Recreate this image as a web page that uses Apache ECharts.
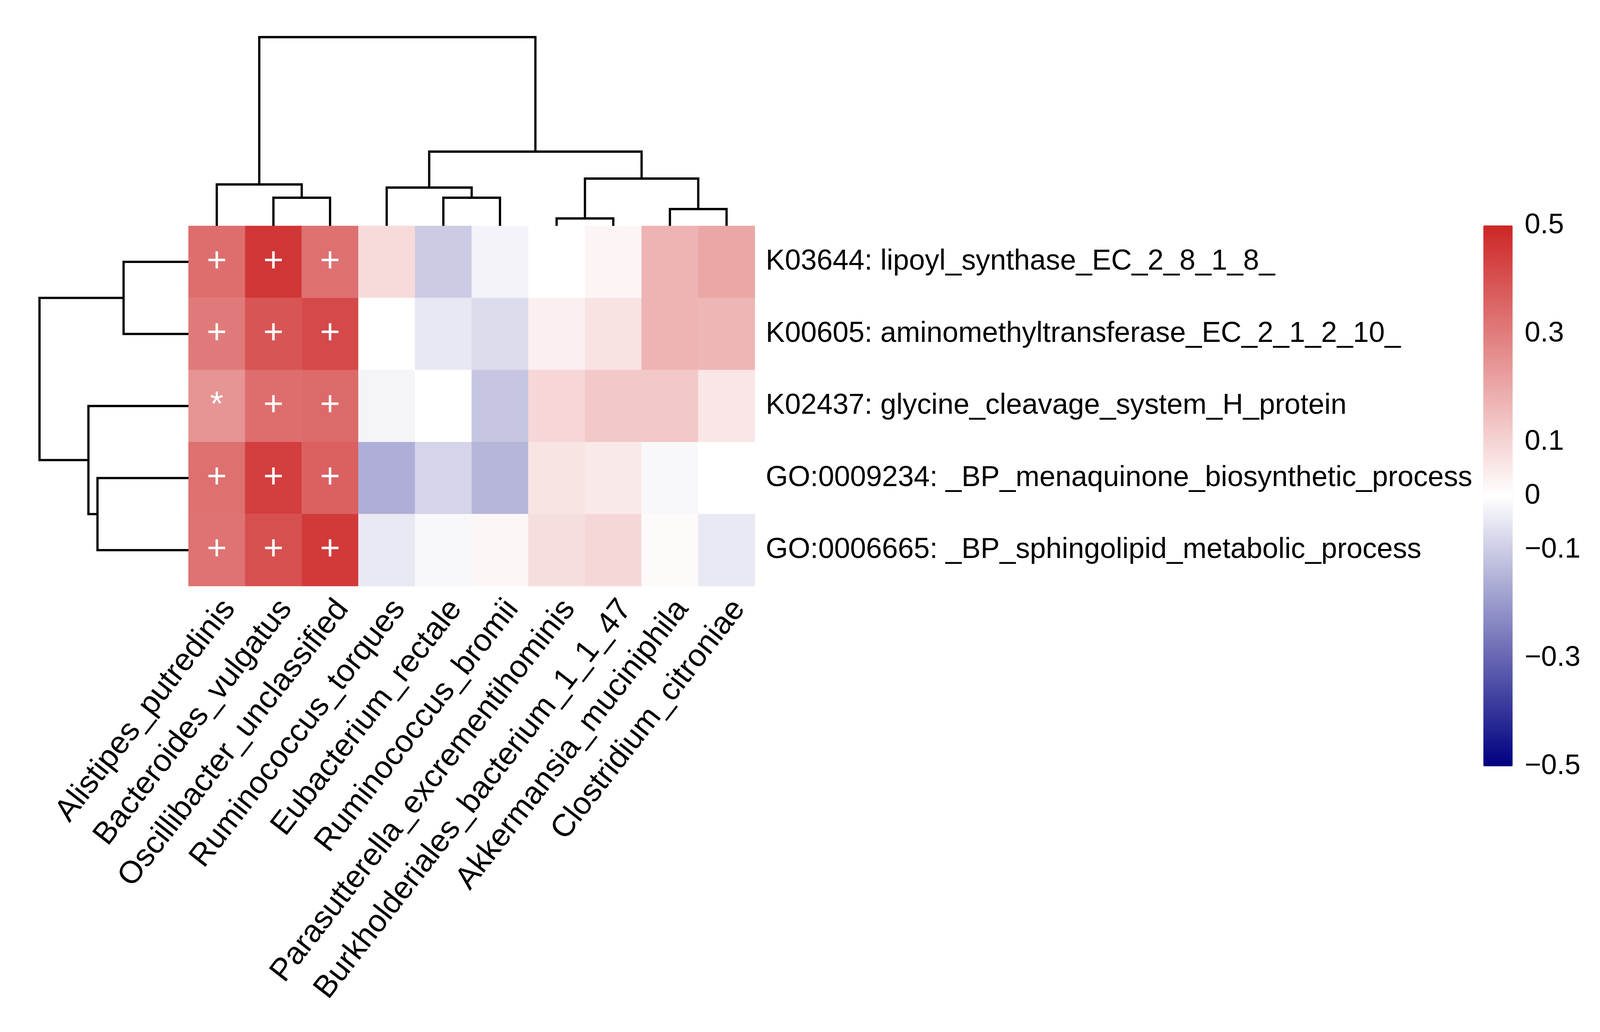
<!DOCTYPE html>
<html><head><meta charset="utf-8">
<script src="https://cdn.jsdelivr.net/npm/echarts@6/dist/echarts.min.js"></script>
<style>html,body{margin:0;padding:0;background:#fff;overflow:hidden}#c{width:100vw;height:100vh}</style>
</head><body><div id="c"></div>
<script>
// ---------- data ----------
const species = ['Alistipes_putredinis', 'Bacteroides_vulgatus', 'Oscillibacter_unclassified',
  'Ruminococcus_torques', 'Eubacterium_rectale', 'Ruminococcus_bromii',
  'Parasutterella_excrementihominis', 'Burkholderiales_bacterium_1_1_47',
  'Akkermansia_muciniphila', 'Clostridium_citroniae'];
const functions = ['K03644: lipoyl_synthase_EC_2_8_1_8_',
  'K00605: aminomethyltransferase_EC_2_1_2_10_',
  'K02437: glycine_cleavage_system_H_protein',
  'GO:0009234: _BP_menaquinone_biosynthetic_process',
  'GO:0006665: _BP_sphingolipid_metabolic_process'];
const corrK03644 = [0.334, 0.463, 0.330, 0.083, -0.102, -0.024, 0.000, 0.023, 0.173, 0.205];
const corrK00605 = [0.306, 0.392, 0.419, 0.001, -0.045, -0.069, 0.037, 0.067, 0.173, 0.168];
const corrK02437 = [0.247, 0.334, 0.343, -0.022, 0.000, -0.112, 0.094, 0.127, 0.127, 0.058];
const corrGO0009234 = [0.330, 0.445, 0.364, -0.159, -0.084, -0.143, 0.062, 0.051, -0.014, 0.000];
const corrGO0006665 = [0.325, 0.403, 0.454, -0.043, -0.014, 0.021, 0.076, 0.092, 0.012, -0.043];
const sigK03644 = ['+', '+', '+', '', '', '', '', '', '', ''];
const sigK00605 = ['+', '+', '+', '', '', '', '', '', '', ''];
const sigK02437 = ['*', '+', '+', '', '', '', '', '', '', ''];
const sigGO0009234 = ['+', '+', '+', '', '', '', '', '', '', ''];
const sigGO0006665 = ['+', '+', '+', '', '', '', '', '', '', ''];
// hclust-style merges (negative = leaf index 1-based in display order, positive = earlier merge)
const colMerge = [[-7, -8], [-9, -10], [-2, -3], [-5, -6], [-4, 4], [-1, 3], [1, 2], [5, 7], [6, 8]];
const colHeight = [19, 43, 72, 72, 98, 106, 121, 190, 483];
const rowMerge = [[-1, -2], [-4, -5], [-3, 2], [1, 3]];
const rowHeight = [179, 251, 276, 411];
const legendTicks = [0.5, 0.3, 0.1, 0, -0.1, -0.3, -0.5];

// ---------- build ----------
const corr = [corrK03644, corrK00605, corrK02437, corrGO0009234, corrGO0006665];
const sig = [sigK03644, sigK00605, sigK02437, sigGO0009234, sigGO0006665];
const heatData = [];
corr.forEach((row, r) => row.forEach((v, c) => heatData.push([c, r, v])));

function links(merge, heights) {
  const pos = [], out = [];
  const info = m => m < 0 ? { p: -m - 1, h: 0 } : { p: pos[m - 1], h: heights[m - 1] };
  merge.forEach((pair, i) => {
    const a = info(pair[0]), b = info(pair[1]);
    const l = a.p <= b.p ? a : b, r = a.p <= b.p ? b : a;
    pos.push((l.p + r.p) / 2);
    out.push([l.p, r.p, l.h, r.h, heights[i]]);
  });
  return out;
}
const colLinks = links(colMerge, colHeight);
const rowLinks = links(rowMerge, rowHeight);

const el = document.getElementById('c');
const W = el.clientWidth || window.innerWidth, H = el.clientHeight || window.innerHeight;
const sx = W / 4415, sy = H / 2641, sf = Math.min(sx, sy);
const X = v => v * sx, Y = v => v * sy, F = v => v * sf;
// column labels: keep the reference's visual slant (about 50 deg in 4415x2641 space)
const colRotate = Math.atan(Math.tan(50 * Math.PI / 180) * sy / sx) * 180 / Math.PI;
const colFont = Math.hypot(457 * sx, 550 * sy) / 8.61;

const FONT = 'Liberation Sans, Arial, Helvetica, sans-serif';
const lineStyle = { stroke: '#000', lineWidth: 6 * (sx + sy) / 2, fill: null };

const chart = echarts.init(el, null, { renderer: 'canvas' });
chart.setOption({
  animation: false,
  backgroundColor: '#fff',
  textStyle: { fontFamily: FONT },
  grid: [
    { left: X(520), top: Y(578), width: X(1563), height: Y(922) },   // heatmap
    { left: X(520), top: Y(95), width: X(1563), height: Y(483) },    // column dendrogram
    { left: X(109), top: Y(578), width: X(411), height: Y(922) },    // row dendrogram
    { left: X(4093), top: Y(577), width: X(81), height: Y(1384) }    // colour bar scale
  ],
  xAxis: [
    { type: 'category', gridIndex: 0, data: species, position: 'bottom',
      axisLine: { show: false }, axisTick: { show: false }, splitLine: { show: false },
      axisLabel: { rotate: colRotate, fontSize: colFont, color: '#000', fontFamily: FONT,
        align: 'right', verticalAlign: 'top', margin: Y(20), interval: 0 } },
    { type: 'value', gridIndex: 1, min: -0.5, max: 9.5, show: false },
    { type: 'value', gridIndex: 2, min: 0, max: rowHeight[rowHeight.length - 1], inverse: true, show: false },
    { type: 'value', gridIndex: 3, min: 0, max: 1, show: false }
  ],
  yAxis: [
    { type: 'category', gridIndex: 0, data: functions, inverse: true, position: 'right',
      axisLine: { show: false }, axisTick: { show: false }, splitLine: { show: false },
      axisLabel: { fontSize: F(79), color: '#000', fontFamily: FONT, margin: X(30), interval: 0 } },
    { type: 'value', gridIndex: 1, min: 0, max: colHeight[colHeight.length - 1], show: false },
    { type: 'value', gridIndex: 2, min: -0.5, max: 4.5, inverse: true, show: false },
    { type: 'value', gridIndex: 3, min: -0.5, max: 0.5, interval: 0.1, position: 'right',
      axisLine: { show: false }, axisTick: { show: false }, splitLine: { show: false },
      axisLabel: { fontSize: F(78), color: '#000', fontFamily: FONT, margin: X(33),
        showMinLabel: true, showMaxLabel: true,
        formatter: v => {
          const r = Math.round(v * 10) / 10;
          if (!legendTicks.includes(r)) return '';
          return r < 0 ? '\u2212' + Math.abs(r) : String(r);
        } } }
  ],
  visualMap: {
    type: 'continuous', min: -0.5, max: 0.5, seriesIndex: 0,
    inRange: { color: ['#000080', '#ffffff', '#CD2626'] },
    itemWidth: X(81), itemHeight: Y(1384), left: X(4093), top: Y(577), padding: 0,
    calculable: false, hoverLink: false, orient: 'vertical'
  },
  series: [
    { type: 'heatmap', xAxisIndex: 0, yAxisIndex: 0, data: heatData,
      itemStyle: { borderWidth: 0 },
      emphasis: { disabled: true },
      label: { show: true, color: '#fff', fontSize: F(95), fontFamily: FONT,
        formatter: p => sig[p.data[1]][p.data[0]] } },
    { type: 'custom', xAxisIndex: 1, yAxisIndex: 1, data: colLinks, silent: true,
      renderItem: (params, api) => {
        const pts = [
          api.coord([api.value(0), api.value(2)]), api.coord([api.value(0), api.value(4)]),
          api.coord([api.value(1), api.value(4)]), api.coord([api.value(1), api.value(3)])];
        return { type: 'polyline', shape: { points: pts }, style: lineStyle };
      } },
    { type: 'custom', xAxisIndex: 2, yAxisIndex: 2, data: rowLinks, silent: true,
      renderItem: (params, api) => {
        const pts = [
          api.coord([api.value(2), api.value(0)]), api.coord([api.value(4), api.value(0)]),
          api.coord([api.value(4), api.value(1)]), api.coord([api.value(3), api.value(1)])];
        return { type: 'polyline', shape: { points: pts }, style: lineStyle };
      } }
  ]
});
window.addEventListener('resize', () => chart.resize());
</script></body></html>
